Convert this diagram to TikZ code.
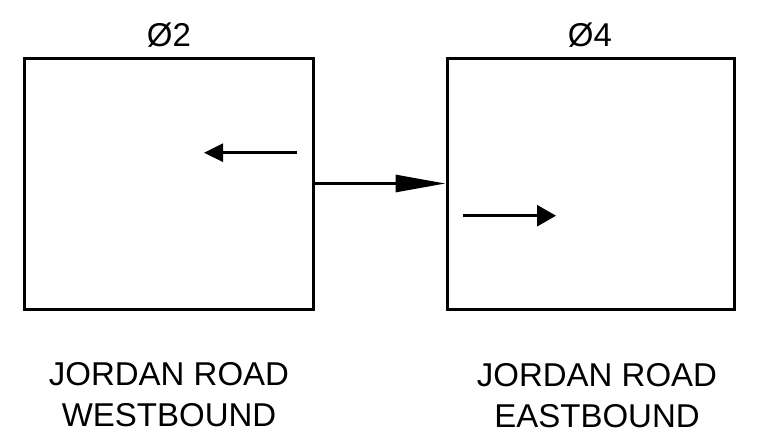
\documentclass[tikz,border=0pt]{standalone}
\usepackage{fontspec}
\setmainfont{Liberation Sans}
\usetikzlibrary{arrows.meta}

\begin{document}
\begin{tikzpicture}[x=1pt,y=-1pt,
    phasebox/.style={draw,line width=3pt,minimum height=251pt,inner sep=0pt},
    phaselabel/.style={anchor=base,inner sep=0pt,font=\fontsize{33}{40}\selectfont},
    roadtext/.style={anchor=base,align=center,inner sep=0pt,font=\fontsize{33}{41}\selectfont},
    lane/.style={line width=3pt}]
      \useasboundingbox (0,0) rectangle (761,439);
      % phase boxes
      \node [phasebox,minimum width=289pt] (ph2) at (168.5,183.5) {};
      \node [phasebox,minimum width=287pt] (ph4) at (590.5,183.5) {};
      \node [phaselabel] (lbl2) at (169,46.7) {Ø2};
      \node [phaselabel] (lbl4) at (590,46.7) {Ø4};
      % movements
      \coordinate (wb tail) at (297,152.7);
      \coordinate (wb head) at (204,152.7);
      \coordinate (eb tail) at (463,215.7);
      \coordinate (eb head) at (556,215.7);
      \draw [lane,-{Triangle[length=19pt,width=18pt]}] (wb tail) -- (wb head);
      \draw [lane,-{Triangle[length=19pt,width=21pt]}] (eb tail) -- (eb head);
      \draw [lane,-{Triangle[length=50pt,width=17pt]}] (ph2.east) -- (ph4.west);
      % road names (base is the last line)
      \node [roadtext] (wb name) at (169,426) {JORDAN ROAD\\WESTBOUND};
      \node [roadtext] (eb name) at (597,427) {JORDAN ROAD\\EASTBOUND};
\end{tikzpicture}
\end{document}
